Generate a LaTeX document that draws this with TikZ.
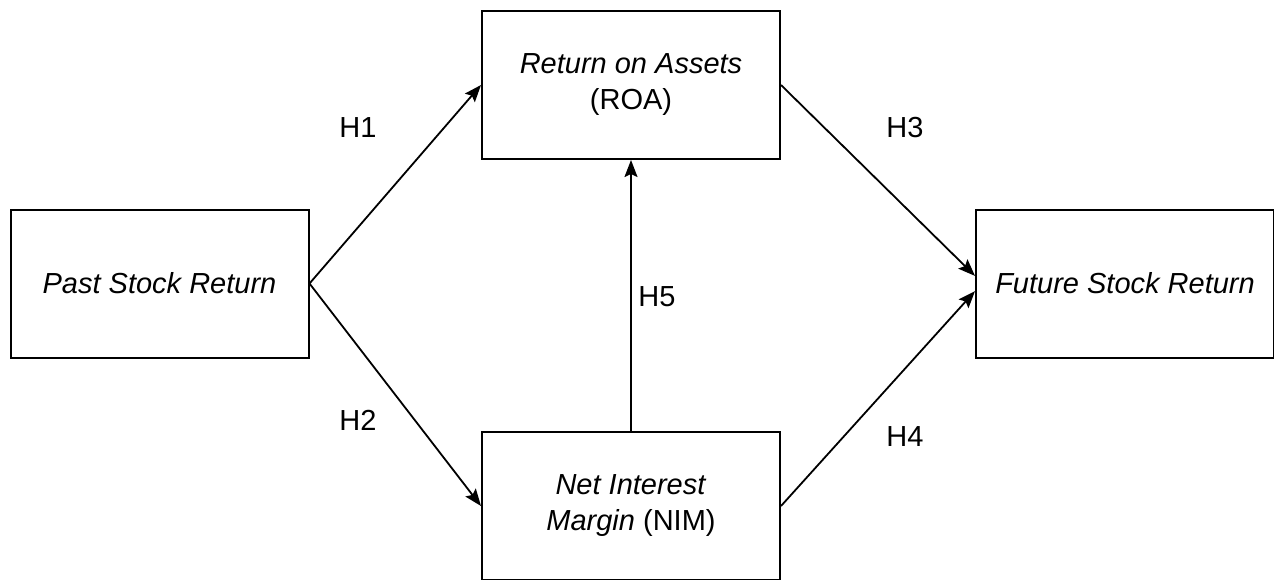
\documentclass[tikz,border=0pt]{standalone}
\usepackage{fontspec}
\setmainfont{Liberation Sans}
\usetikzlibrary{arrows.meta}

\begin{document}
\begin{tikzpicture}[x=0.5pt, y=-0.5pt,
  box/.style={draw, line width=1pt, minimum width=149pt, minimum height=74pt,
    inner sep=0pt, align=center, font=\fontsize{14.5}{18}\selectfont},
  link/.style={line width=0.9pt, -{Stealth[length=8.5pt, width=6.5pt, inset=1.5pt]}},
  hyp/.style={font=\fontsize{14.5}{18}\selectfont}]
  \useasboundingbox (0,0) rectangle (1274,579);
  % variables
  \node[box] (past) at (159.5,283.5) {\textit{Past Stock Return}};
  \node[box] (roa) at (631,85) {\textit{Return on Assets}\\(ROA)};
  \node[box] (nim) at (631,506) {\textit{Net Interest}\\\textit{Margin} (NIM)};
  \node[box] (future) at (1125,283.5) {\textit{Future Stock Return}};
  % hypotheses
  \draw[link] (past.east) -- (roa.west);
  \draw[link] (past.east) -- (nim.west);
  \draw[link] (roa.east) -- ([yshift=3.8pt]future.west);
  \draw[link] (nim.east) -- ([yshift=-3.8pt]future.west);
  \draw[link] (nim.north) -- (roa.south);
  \node[hyp] (h1) at (358,128) {H1};
  \node[hyp] (h2) at (358,420) {H2};
  \node[hyp] (h3) at (905,128) {H3};
  \node[hyp] (h4) at (905,437) {H4};
  \node[hyp] (h5) at (657,297) {H5};
\end{tikzpicture}
\end{document}
